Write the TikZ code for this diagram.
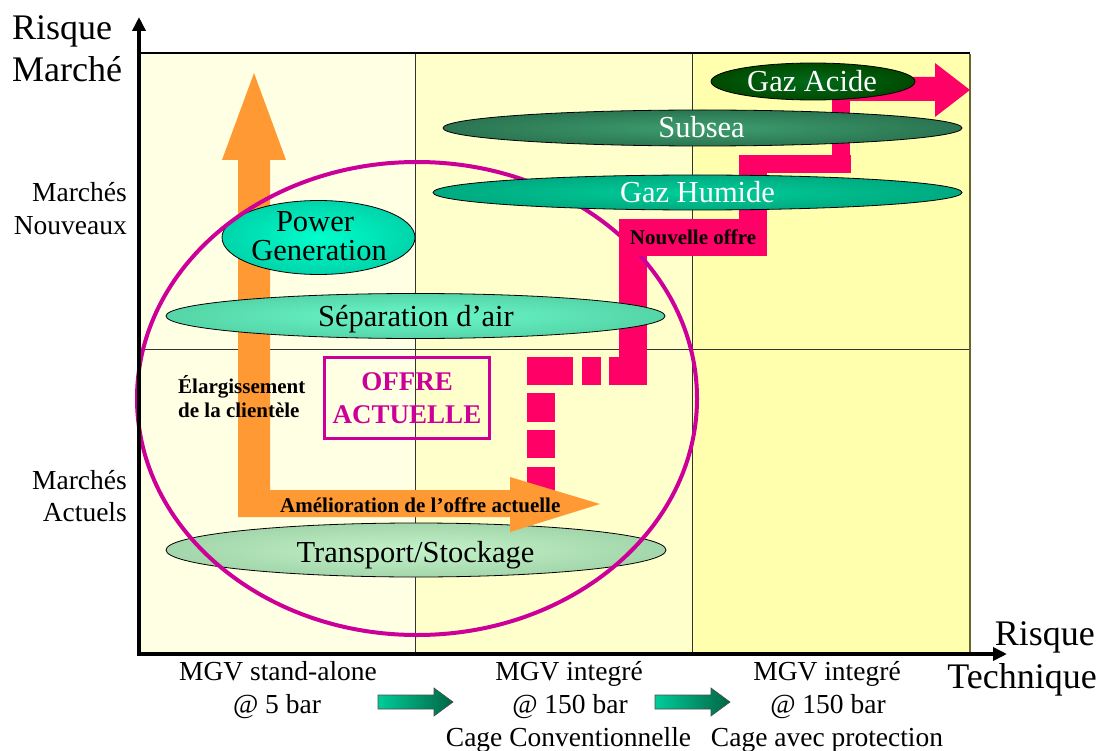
\documentclass[tikz,border=0pt]{standalone}
\usepackage{fontspec}
\setmainfont{Liberation Serif}
\usetikzlibrary{arrows.meta}
\definecolor{colA}{HTML}{FFFFE3}
\definecolor{colB}{HTML}{FFFFCC}
\definecolor{colC}{HTML}{FFFFAD}
\definecolor{pinkc}{HTML}{FF0066}
\definecolor{magc}{HTML}{CC0099}
\definecolor{orangec}{HTML}{FF9933}
\definecolor{gridc}{HTML}{333333}
\definecolor{rightc}{HTML}{666633}
\definecolor{gaInner}{HTML}{006B1A}
\definecolor{gaOuter}{HTML}{004A00}
\definecolor{suInner}{HTML}{3D9E6E}
\definecolor{suOuter}{HTML}{2B7552}
\definecolor{ghInner}{HTML}{00CC99}
\definecolor{ghOuter}{HTML}{00AA80}
\definecolor{pgInner}{HTML}{00FFCC}
\definecolor{pgOuter}{HTML}{00D4AA}
\definecolor{spInner}{HTML}{6AF8CA}
\definecolor{spOuter}{HTML}{55D5A8}
\definecolor{trInner}{HTML}{C4F2CA}
\definecolor{trOuter}{HTML}{A3D6AA}
\definecolor{garL}{HTML}{00CC99}
\definecolor{garR}{HTML}{006644}
\begin{document}
\begin{tikzpicture}[x=1pt,y=-1pt,
  big/.style={inner sep=0, font=\fontsize{36}{42}\selectfont},
  midtxt/.style={inner sep=0, font=\fontsize{27.5}{33}\selectfont},
  elltxt/.style={inner sep=0, font=\fontsize{30.5}{30}\selectfont},
  bld/.style={inner sep=0, font=\fontsize{21}{24}\selectfont\bfseries},
  ellshape/.style={draw=black, line width=0.8pt},
  gridline/.style={draw=gridc, line width=1pt},
  pinkpart/.style={fill=pinkc},
  greenarrow/.style={draw=black!70, line width=0.6pt, left color=garL, right color=garR}
]
\useasboundingbox (0,0) rectangle (1099,751);
\fill[white] (0,0) rectangle (1099,751);
% columns
\fill[colA] (140,53) rectangle (415,655);
\fill[colB] (415,53) rectangle (692,655);
\fill[colC] (692,53) rectangle (970,655);
% grid
\draw[gridline] (415,53) -- (415,655);
\draw[gridline] (692,53) -- (692,655);
\draw[gridline] (140,349) -- (970,349);
\draw[draw=black, line width=1.2pt] (140,53) -- (970,53);
\draw[draw=rightc, line width=2pt] (970,54) -- (970,655);
% pink path
\fill[pinkpart] (527,393) rectangle (555,422);
\fill[pinkpart] (527,430) rectangle (555,458);
\fill[pinkpart] (527,467) rectangle (555,495);
\fill[pinkpart] (527,357) rectangle (573,385);
\fill[pinkpart] (582,357) rectangle (601,385);
\fill[pinkpart] (609,357) rectangle (647,385);
\fill[pinkpart] (619,250) rectangle (647,385);
\fill[pinkpart] (739,155) rectangle (767,225);
\fill[pinkpart] (739,155) rectangle (851,173);
\fill[pinkpart] (832,85) rectangle (850,173);
\fill[pinkpart] (832,77) -- (935,77) -- (935,63) -- (970,90) -- (935,117) -- (935,101) -- (832,101) -- cycle;
% transport ellipse
\path[ellshape, inner color=trInner, outer color=trOuter] (416,550) ellipse [x radius=250pt, y radius=27pt];
% orange arrow
\fill[orangec] (238,517) -- (238,160) -- (222,160) -- (254,73) -- (286,160) -- (270,160) -- (270,490) -- (510,490) -- (510,477) -- (600,504) -- (510,532) -- (510,517) -- cycle;
% separation & power
\path[ellshape, inner color=spInner, outer color=spOuter] (415.5,316) ellipse [x radius=249.5pt, y radius=22.5pt];
\path[ellshape, inner color=pgInner, outer color=pgOuter] (318.5,237.5) ellipse [x radius=96.5pt, y radius=37pt];
% magenta circle
\draw[magc, line width=4pt] (417,398.5) ellipse [x radius=280pt, y radius=236.5pt];
% top ellipses
\path[ellshape, inner color=ghInner, outer color=ghOuter] (697.5,192.5) ellipse [x radius=264.5pt, y radius=17.5pt];
\path[ellshape, inner color=suInner, outer color=suOuter] (702.5,128) ellipse [x radius=259.5pt, y radius=18pt];
\path[ellshape, inner color=gaInner, outer color=gaOuter] (813,81.5) ellipse [x radius=102pt, y radius=18.5pt];
% ellipse texts
\node[elltxt, text=white, anchor=base] (tga) at (812,92) {Gaz Acide};
\node[elltxt, text=white, anchor=base] (tsub) at (701.5,138) {Subsea};
\node[elltxt, text=white, anchor=base] (tgh) at (697.5,203) {Gaz Humide};
\node[elltxt, anchor=base] (tpg1) at (315,232) {Power};
\node[elltxt, anchor=base] (tpg2) at (319,260) {Generation};
\node[elltxt, anchor=base] (tsep) at (416,326) {Séparation d’air};
\node[elltxt, anchor=base] (ttr) at (415.5,562) {Transport/Stockage};
% nouvelle offre
\node[bld, fill=pinkc, minimum width=148pt, minimum height=37pt] (nouv) at (693,237.5) {Nouvelle offre};
% offre actuelle box
\node[draw=magc, line width=3pt, minimum width=165pt, minimum height=81pt, inner sep=0, align=center, text=magc, font=\fontsize{27}{33}\selectfont\bfseries] (offre) at (407,398) {OFFRE\\ACTUELLE};
% bold labels
\node[bld, anchor=base west] (el1) at (178,393) {Élargissement};
\node[bld, anchor=base west] (el2) at (178,417) {de la clientèle};
\node[bld, anchor=base west] (am) at (280,512) {Amélioration de l’offre actuelle};
% axes
\coordinate (origin) at (139,654);
\coordinate (ytip) at (139,17);
\coordinate (xtip) at (1007,654);
\draw[line width=4pt, line join=miter, {Triangle[length=14pt,width=13pt]}-{Triangle[length=14pt,width=13pt]}] (ytip) -- (origin) -- (xtip);
% axis labels
\node[big, anchor=base west] (rm1) at (12,40) {Risque};
\node[big, anchor=base west] (rm2) at (12,82) {Marché};
\node[midtxt, anchor=base east] (mn1) at (127,202) {Marchés};
\node[midtxt, anchor=base east] (mn2) at (127,235) {Nouveaux};
\node[midtxt, anchor=base east] (ma1) at (127,489) {Marchés};
\node[midtxt, anchor=base east] (ma2) at (127,521) {Actuels};
\node[big, anchor=base east] (rt1) at (1095,645) {Risque};
\node[big, anchor=base east] (rt2) at (1097,688) {Technique};
% bottom labels
\node[midtxt, anchor=base] (b1a) at (278,680) {MGV stand-alone};
\node[midtxt, anchor=base] (b1b) at (277,713) {@ 5 bar};
\node[midtxt, anchor=base] (b2a) at (569,680) {MGV integré};
\node[midtxt, anchor=base] (b2b) at (570,713) {@ 150 bar};
\node[midtxt, anchor=base] (b2c) at (568.5,746) {Cage Conventionnelle};
\node[midtxt, anchor=base] (b3a) at (827,680) {MGV integré};
\node[midtxt, anchor=base] (b3b) at (828,713) {@ 150 bar};
\node[midtxt, anchor=base] (b3c) at (827,746) {Cage avec protection};
% green block arrows
\path[greenarrow] (378,695) -- (434,695) -- (434,688) -- (453,702) -- (434,716) -- (434,709) -- (378,709) -- cycle;
\path[greenarrow] (655,695) -- (711,695) -- (711,688) -- (730,702) -- (711,716) -- (711,709) -- (655,709) -- cycle;
\end{tikzpicture}
\end{document}
